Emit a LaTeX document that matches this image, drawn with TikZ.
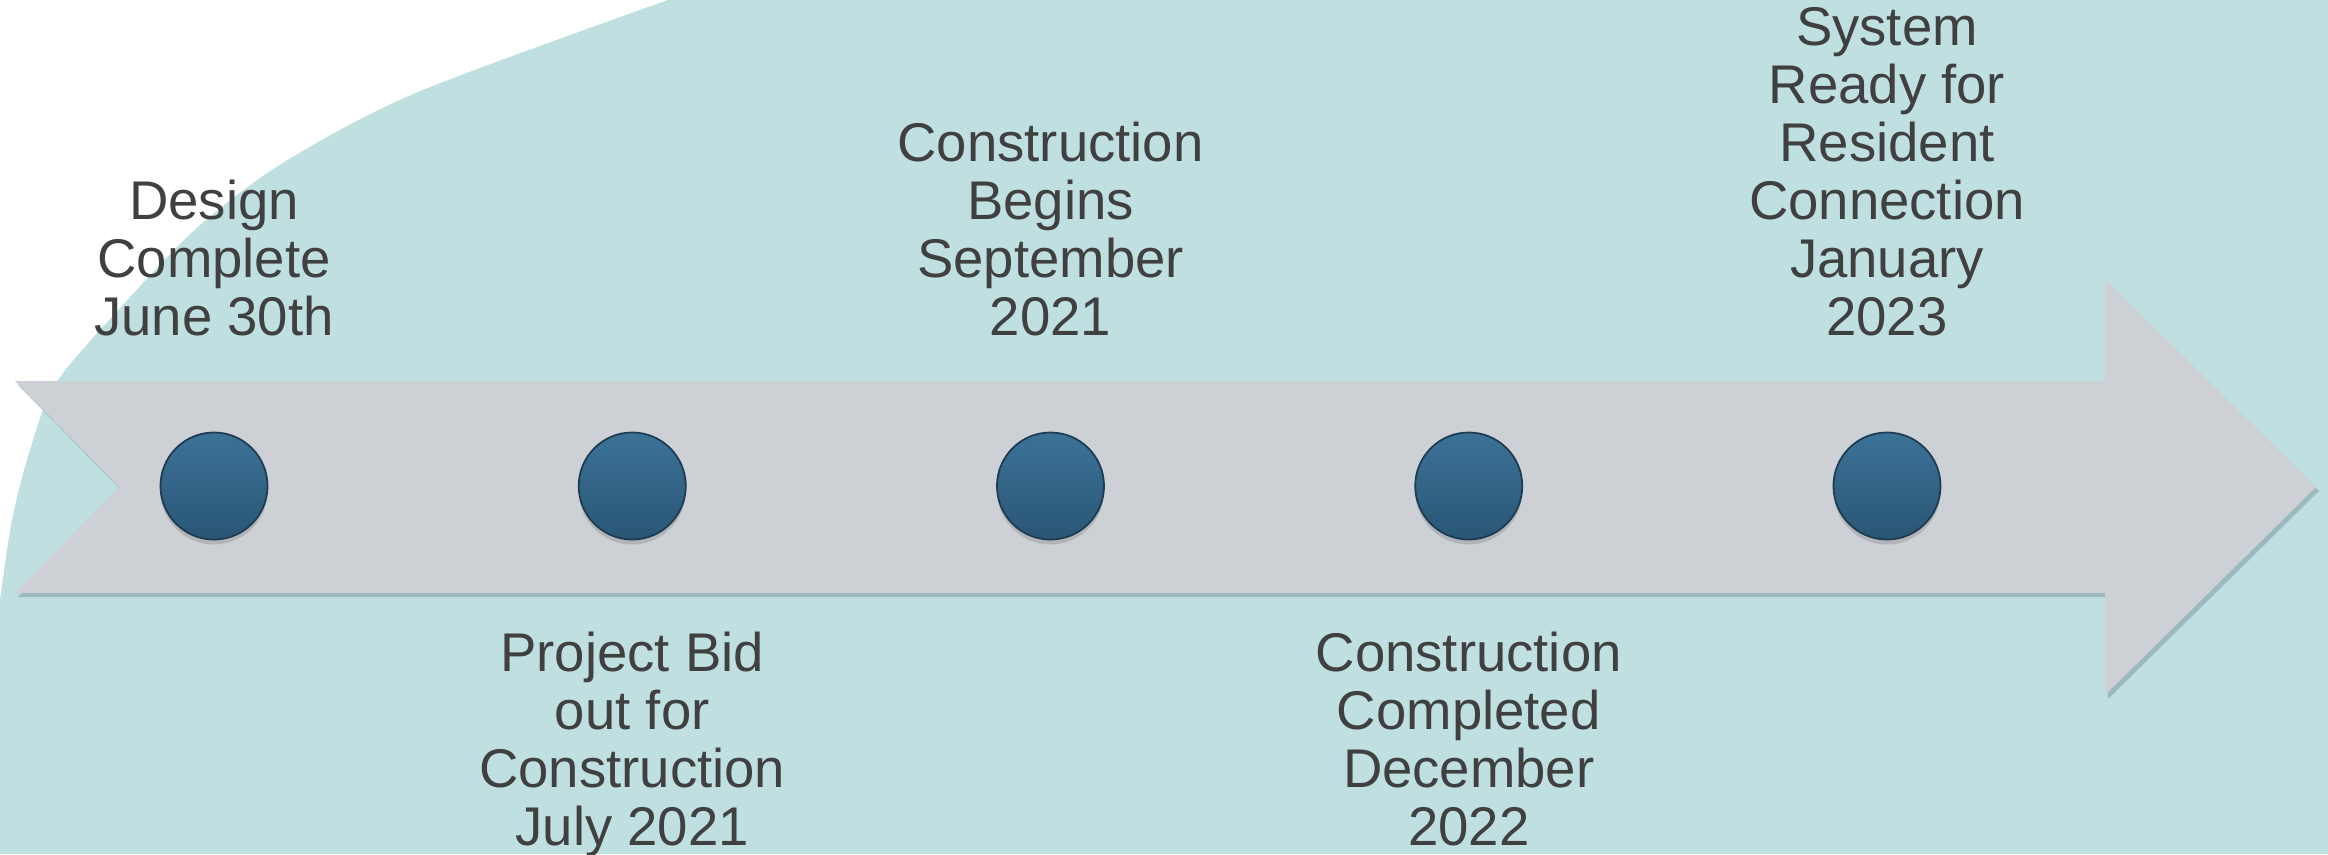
\documentclass[tikz,border=0pt]{standalone}
\usepackage{fontspec}
\setmainfont{Liberation Sans}
\usetikzlibrary{positioning,shadows}
\definecolor{bgteal}{RGB}{191,223,225}
\definecolor{bargray}{RGB}{205,209,214}
\definecolor{barshadow}{RGB}{140,170,176}
\definecolor{dotlight}{RGB}{60,114,152}
\definecolor{dotdark}{RGB}{42,86,117}
\definecolor{textgray}{RGB}{64,64,64}
\tikzset{
  milestone/.style = {circle, minimum size=1.07cm, inner sep=0pt,
                      top color=dotlight, bottom color=dotdark,
                      draw=dotdark!70!black, line width=0.5pt,
                      drop shadow={shadow xshift=0pt, shadow yshift=-0.05cm,
                                   opacity=0.35}},
  event/.style     = {align=center, inner sep=0pt, text=textgray,
                      font=\fontsize{15.5}{16.5}\selectfont}
}

\begin{document}
\begin{tikzpicture}[x=0.01cm, y=-0.01cm]
\useasboundingbox (0,0) rectangle (2328,854);

% background
\fill[bgteal] plot[smooth] coordinates {(0,600) (12,520) (30,450) (56,383)
  (122,306) (199,226) (286,161) (418,92) (668,0)}
  -- (2328,0) -- (2328,854) -- (0,854) -- cycle;

% timeline arrow
\fill[bargray, drop shadow={shadow xshift=0.03cm, shadow yshift=-0.04cm,
                            fill=barshadow, opacity=0.7}]
  (15,381) -- (2105,381) -- (2105,279) -- (2316,487) -- (2105,695)
  -- (2105,593) -- (15,593) -- (119,487) -- cycle;

% the milestones
\node[milestone] (d1) at (214,486) {};
\node[milestone, right of = d1, node distance=4.18cm] (d2) {};
\node[milestone, right of = d2, node distance=4.18cm] (d3) {};
\node[milestone, right of = d3, node distance=4.18cm] (d4) {};
\node[milestone, right of = d4, node distance=4.18cm] (d5) {};

% labels, above and below in turn
\node[event, above=0.945cm of d1] (e1) {Design\\Complete\\June 30th};
\node[event, below=0.905cm of d2] (e2) {Project Bid\\out for\\Construction\\July 2021};
\node[event, above=0.945cm of d3] (e3) {Construction\\Begins\\September\\2021};
\node[event, below=0.905cm of d4] (e4) {Construction\\Completed\\December\\2022};
\node[event, above=0.945cm of d5] (e5) {System\\Ready for\\Resident\\Connection\\January\\2023};
\end{tikzpicture}
\end{document}
